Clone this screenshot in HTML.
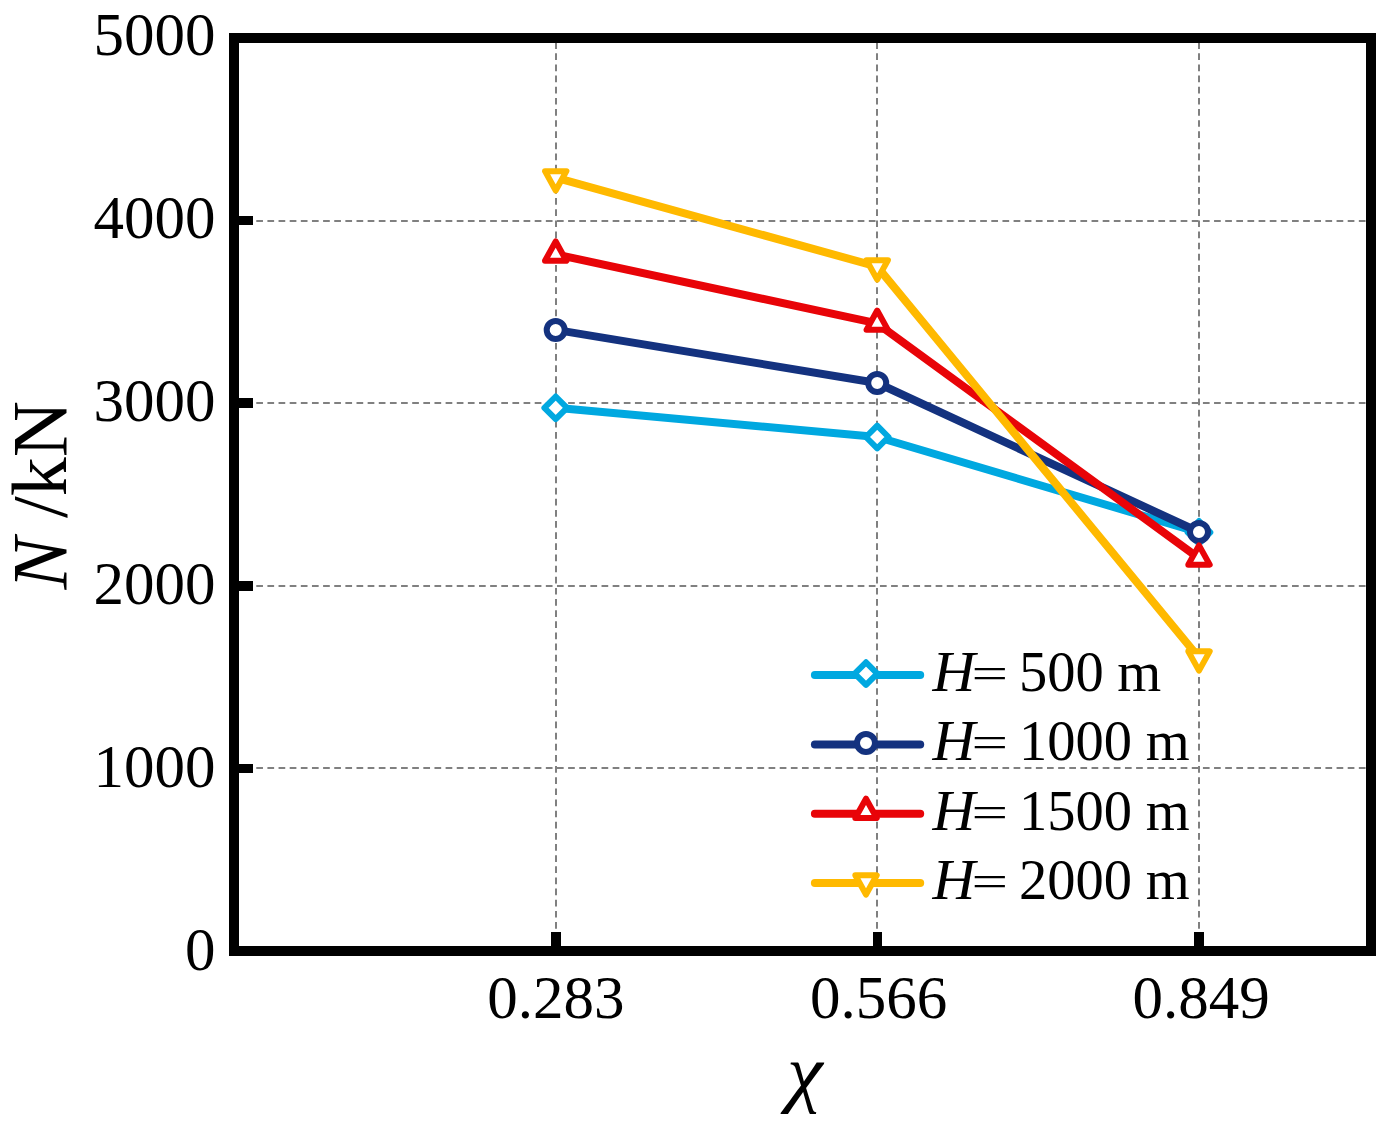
<!DOCTYPE html>
<html lang="en"><head><meta charset="utf-8"><title>N-chi chart</title>
<style>
html,body{margin:0;padding:0;background:#fff;}
body{width:1395px;height:1136px;overflow:hidden;}
svg{display:block;}
text{font-family:"Liberation Serif","Times New Roman",serif;fill:#000;}
.tk{font-size:61px;}
.lg{font-size:56.5px;}
.it{font-style:italic;}
</style></head><body>
<svg width="1395" height="1136" viewBox="0 0 1395 1136">
<rect x="0" y="0" width="1395" height="1136" fill="#fff"/>
<g stroke="#808080" stroke-width="2" stroke-dasharray="6.7 4.437" fill="none">
<path d="M234 221H1371"/>
<path d="M234 403H1371"/>
<path d="M234 586H1371"/>
<path d="M234 768H1371"/>
<path d="M556 951V38"/>
<path d="M877 951V38"/>
<path d="M1199 951V38"/>
</g>
<g fill="#000">
<rect x="551" y="932" width="10" height="16"/>
<rect x="873" y="932" width="9" height="16"/>
<rect x="1194" y="932" width="10" height="16"/>
<rect x="237" y="216" width="16" height="9"/>
<rect x="237" y="398" width="16" height="10"/>
<rect x="237" y="581" width="16" height="10"/>
<rect x="237" y="764" width="16" height="9"/>
</g>
<polyline points="555.70,407.80 877.20,437.00 1199.00,532.30" fill="none" stroke="#00A8E0" stroke-width="8" stroke-linejoin="round" stroke-linecap="round"/>
<path d="M555.70 396.50L567.00 407.80L555.70 419.10L544.40 407.80Z" fill="#fff" stroke="#00A8E0" stroke-width="6" stroke-linejoin="round"/>
<path d="M877.20 425.70L888.50 437.00L877.20 448.30L865.90 437.00Z" fill="#fff" stroke="#00A8E0" stroke-width="6" stroke-linejoin="round"/>
<path d="M1199.00 521.00L1210.30 532.30L1199.00 543.60L1187.70 532.30Z" fill="#fff" stroke="#00A8E0" stroke-width="6" stroke-linejoin="round"/>
<polyline points="555.70,329.90 877.20,383.00 1199.00,532.00" fill="none" stroke="#14327F" stroke-width="8" stroke-linejoin="round" stroke-linecap="round"/>
<circle cx="555.70" cy="329.90" r="9.0" fill="#fff" stroke="#14327F" stroke-width="6"/>
<circle cx="877.20" cy="383.00" r="9.0" fill="#fff" stroke="#14327F" stroke-width="6"/>
<circle cx="1199.00" cy="532.00" r="9.0" fill="#fff" stroke="#14327F" stroke-width="6"/>
<polyline points="555.70,254.35 877.20,323.40 1199.00,558.20" fill="none" stroke="#E80408" stroke-width="8" stroke-linejoin="round" stroke-linecap="round"/>
<path d="M555.70 241.48L566.40 260.78L545.00 260.78Z" fill="#fff" stroke="#E80408" stroke-width="6" stroke-linejoin="round"/>
<path d="M877.20 310.53L887.90 329.83L866.50 329.83Z" fill="#fff" stroke="#E80408" stroke-width="6" stroke-linejoin="round"/>
<path d="M1199.00 545.33L1209.70 564.63L1188.30 564.63Z" fill="#fff" stroke="#E80408" stroke-width="6" stroke-linejoin="round"/>
<polyline points="555.70,177.60 877.20,266.65 1199.00,657.80" fill="none" stroke="#FFB900" stroke-width="8" stroke-linejoin="round" stroke-linecap="round"/>
<path d="M555.70 190.47L566.40 171.17L545.00 171.17Z" fill="#fff" stroke="#FFB900" stroke-width="6" stroke-linejoin="round"/>
<path d="M877.20 279.52L887.90 260.22L866.50 260.22Z" fill="#fff" stroke="#FFB900" stroke-width="6" stroke-linejoin="round"/>
<path d="M1199.00 670.67L1209.70 651.37L1188.30 651.37Z" fill="#fff" stroke="#FFB900" stroke-width="6" stroke-linejoin="round"/>
<rect x="234" y="38" width="1137" height="913" fill="none" stroke="#000" stroke-width="10"/>
<text class="tk" x="215.6" y="55.39" text-anchor="end">5000</text>
<text class="tk" x="215.6" y="238.40" text-anchor="end">4000</text>
<text class="tk" x="215.6" y="421.40" text-anchor="end">3000</text>
<text class="tk" x="215.6" y="604.40" text-anchor="end">2000</text>
<text class="tk" x="215.6" y="787.39" text-anchor="end">1000</text>
<text class="tk" x="215.6" y="970.45" text-anchor="end">0</text>
<text class="tk" x="555.8" y="1018.4" text-anchor="middle">0.283</text>
<text class="tk" x="878.6" y="1018.4" text-anchor="middle">0.566</text>
<text class="tk" x="1201.2" y="1018.4" text-anchor="middle">0.849</text>
<text class="it" font-size="76.2" transform="translate(787.07,1097.9) scale(1.061,1)">χ</text>
<text font-size="78" transform="translate(65.9,589.5) rotate(-90)"><tspan class="it">N</tspan> /kN</text>
<path d="M814.9 674.9H920.2" stroke="#00A8E0" stroke-width="8" stroke-linecap="round" fill="none"/>
<path d="M866.00 662.30L877.30 673.60L866.00 684.90L854.70 673.60Z" fill="#fff" stroke="#00A8E0" stroke-width="6" stroke-linejoin="round"/>
<text class="lg it" transform="translate(932.54,690.6) scale(1.049,1)">H</text>
<text class="lg" transform="translate(971.57,687.50) scale(1.148,0.8)">=</text>
<text class="lg" x="1103.65" y="690.6" text-anchor="end">500</text>
<text class="lg" x="1117.2" y="690.6">m</text>
<path d="M814.9 744.6H920.2" stroke="#14327F" stroke-width="8" stroke-linecap="round" fill="none"/>
<circle cx="866.00" cy="743.10" r="9.0" fill="#fff" stroke="#14327F" stroke-width="6"/>
<text class="lg it" transform="translate(932.54,760.1) scale(1.049,1)">H</text>
<text class="lg" transform="translate(971.57,757.00) scale(1.148,0.8)">=</text>
<text class="lg" x="1131.95" y="760.1" text-anchor="end">1000</text>
<text class="lg" x="1145.8" y="760.1">m</text>
<path d="M814.9 813.8H920.2" stroke="#E80408" stroke-width="8" stroke-linecap="round" fill="none"/>
<path d="M866.00 798.73L876.70 818.03L855.30 818.03Z" fill="#fff" stroke="#E80408" stroke-width="6" stroke-linejoin="round"/>
<text class="lg it" transform="translate(932.54,829.6) scale(1.049,1)">H</text>
<text class="lg" transform="translate(971.57,826.50) scale(1.148,0.8)">=</text>
<text class="lg" x="1131.95" y="829.6" text-anchor="end">1500</text>
<text class="lg" x="1145.8" y="829.6">m</text>
<path d="M814.9 883.0H920.2" stroke="#FFB900" stroke-width="8" stroke-linecap="round" fill="none"/>
<path d="M866.00 894.57L876.70 875.27L855.30 875.27Z" fill="#fff" stroke="#FFB900" stroke-width="6" stroke-linejoin="round"/>
<text class="lg it" transform="translate(932.54,899.0) scale(1.049,1)">H</text>
<text class="lg" transform="translate(971.57,895.90) scale(1.148,0.8)">=</text>
<text class="lg" x="1131.95" y="899.0" text-anchor="end">2000</text>
<text class="lg" x="1145.8" y="899.0">m</text>
</svg></body></html>
